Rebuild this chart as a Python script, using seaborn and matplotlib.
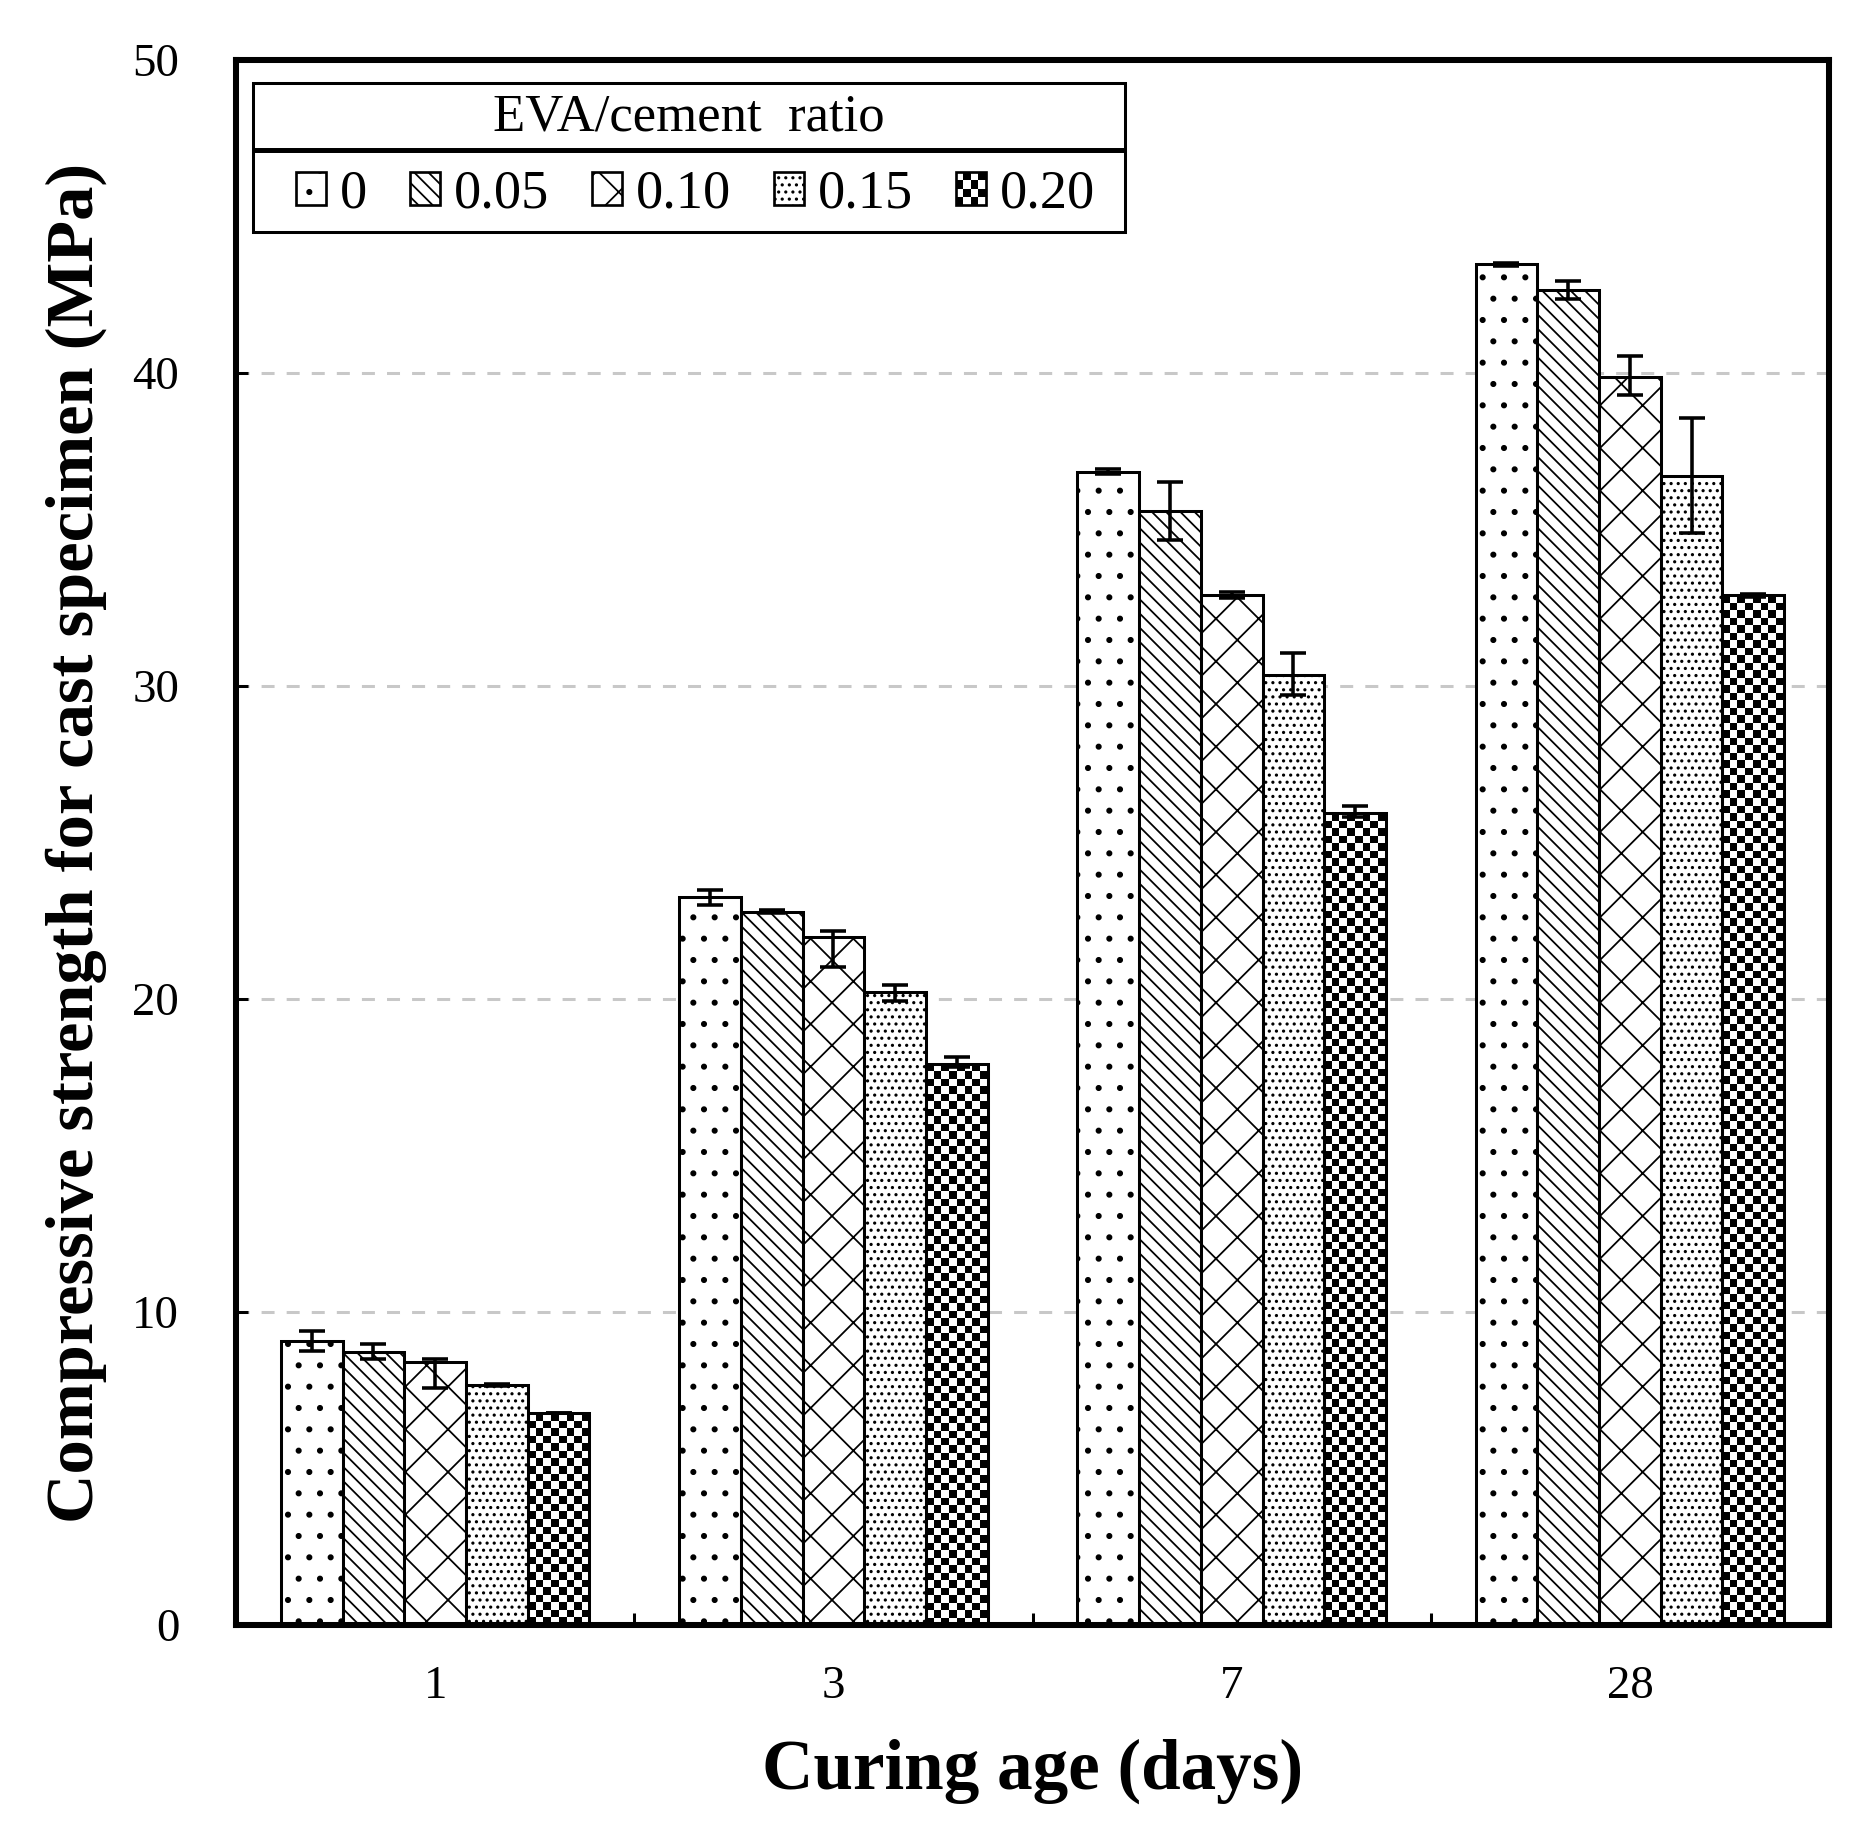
import numpy as np
import pandas as pd
import matplotlib
matplotlib.use('Agg')
import matplotlib.pyplot as plt
import seaborn as sns
from matplotlib.patches import Rectangle, Patch
from matplotlib.legend_handler import HandlerBase

# data (MPa)
ages = ['1', '3', '7', '28']
ratios = ['0', '0.05', '0.10', '0.15', '0.20']
strength = {
    '0':    [9.08, 23.25, 36.85, 43.47],
    '0.05': [8.73, 22.79, 35.59, 42.65],
    '0.10': [8.41, 21.97, 32.91, 39.87],
    '0.15': [7.67, 20.23, 30.35, 36.72],
    '0.20': [6.76, 17.92, 25.93, 32.90],
}
err_lo = {
    '0':    [0.31, 0.24, 0.08, 0.05],
    '0.05': [0.24, 0.05, 0.93, 0.29],
    '0.10': [0.85, 0.94, 0.10, 0.57],
    '0.15': [0.03, 0.28, 0.65, 1.82],
    '0.20': [0.00, 0.10, 0.10, 0.05],
}
err_hi = {
    '0':    [0.31, 0.24, 0.08, 0.05],
    '0.05': [0.24, 0.05, 0.93, 0.29],
    '0.10': [0.08, 0.21, 0.10, 0.67],
    '0.15': [0.03, 0.22, 0.69, 1.85],
    '0.20': [0.00, 0.22, 0.24, 0.05],
}
hatches = ['.', '\\\\\\', 'x', '...', None]  # last one gets a checkerboard

DPI = 128
sns.set_theme(style='white')
plt.rcParams['font.family'] = ['Liberation Serif', 'DejaVu Serif']
plt.rcParams['hatch.linewidth'] = 1.0
plt.rcParams['hatch.color'] = 'black'
for k in ['text.color', 'axes.labelcolor', 'xtick.color', 'ytick.color']:
    plt.rcParams[k] = 'black'

df = pd.DataFrame([
    {'age': a, 'ratio': r, 'strength': strength[r][i]}
    for r in ratios for i, a in enumerate(ages)
])

fig = plt.figure(figsize=(1869 / DPI, 1846 / DPI), dpi=DPI)
ax = fig.add_axes([0.1263, 0.1197, 0.8523, 0.8478])

sns.barplot(data=df, x='age', y='strength', hue='ratio', order=ages,
            hue_order=ratios, palette=['white'] * 5, saturation=1,
            width=0.775, errorbar=None, edgecolor='black', linewidth=1.7,
            legend=False, ax=ax)
ax.set_xlim(-0.5, 3.5)
ax.set_ylim(0, 50)

for cont, h in zip(ax.containers, hatches):
    for bar in cont:
        if h:
            bar.set_hatch(h)

# checkerboard fill for the 0.20 series
for bar in ax.containers[4]:
    bb = bar.get_window_extent()
    nx = max(1, int(round(bb.width / 7.5)))
    ny = max(1, int(round(bb.height / 7.5)))
    cells = np.add.outer(np.arange(ny), np.arange(nx)) % 2
    im = ax.imshow(cells, cmap='gray', vmin=0, vmax=1, origin='lower',
                   extent=(bar.get_x(), bar.get_x() + bar.get_width(), 0, bar.get_height()),
                   interpolation='nearest', aspect='auto', zorder=bar.get_zorder() - 0.01)
    im.set_clip_path(bar)
    bar.set_facecolor('none')
ax.set_xlim(-0.5, 3.5)
ax.set_ylim(0, 50)

# error bars
for r, cont in zip(ratios, ax.containers):
    for bar in cont:
        xc = bar.get_x() + bar.get_width() / 2
        gi = int(round(xc))
        ax.errorbar(xc, bar.get_height(), yerr=[[err_lo[r][gi]], [err_hi[r][gi]]],
                    fmt='none', ecolor='black', elinewidth=2, capsize=7.3,
                    capthick=2, zorder=3)

# axes styling
for sp in ax.spines.values():
    sp.set_linewidth(3.4)
    sp.set_color('black')
ax.set_yticks([0, 10, 20, 30, 40, 50])
ax.tick_params(axis='y', direction='in', length=6.75, width=1.7, pad=32,
               labelsize=26.4, left=True)
ax.set_xticks(range(len(ages)))
ax.set_xticklabels(ages)
ax.tick_params(axis='x', which='major', length=0, pad=23, labelsize=26.4)
ax.set_xticks([0.5, 1.5, 2.5], minor=True)
ax.tick_params(axis='x', which='minor', direction='in', length=6.75,
               width=1.7, bottom=True)
ax.yaxis.grid(True, color='#c8c8c8', linestyle=(0, (4.3, 4)), linewidth=1.7)
ax.xaxis.grid(False)
ax.set_axisbelow(True)

ax.set_xlabel('Curing age (days)', fontsize=40, fontweight='bold', labelpad=17)
ax.set_ylabel('Compressive strength for cast specimen (MPa)', fontsize=38.5,
              fontweight='bold', labelpad=14)

# legend box with separate title row
x0, x1, yb, ydiv, yt = 0.0107, 0.558, 0.8901, 0.9422, 0.9853
ax.add_patch(Rectangle((x0, yb), x1 - x0, yt - yb, transform=ax.transAxes,
                       facecolor='white', edgecolor='black', lw=1.7, zorder=4))
ax.plot([x0, x1], [ydiv, ydiv], transform=ax.transAxes, color='black',
        lw=2.8, zorder=4.5, solid_capstyle='butt')
ax.text((x0 + x1) / 2, 0.963, 'EVA/cement  ratio', transform=ax.transAxes,
        ha='center', va='center', fontsize=29.7, zorder=5)


class CheckerHandler(HandlerBase):
    def create_artists(self, legend, orig_handle, xdescent, ydescent,
                       width, height, fontsize, trans):
        n = 4
        cw, ch = width / n, height / n
        arts = []
        for i in range(n):
            for j in range(n):
                if (i + j) % 2 == 0:
                    arts.append(Rectangle((-xdescent + i * cw, -ydescent + j * ch), cw, ch,
                                          facecolor='black', edgecolor='none', transform=trans))
        arts.append(Rectangle((-xdescent, -ydescent), width, height, facecolor='none',
                              edgecolor='black', lw=1.5, transform=trans))
        return arts


handles = [Patch(facecolor='white', edgecolor='black', hatch=h, lw=1.5) for h in hatches[:4]]
checker = Patch(facecolor='white', edgecolor='black')
handles.append(checker)
leg = ax.legend(handles, ratios, ncol=5, loc='center',
                bbox_to_anchor=((x0 + x1) / 2 + 0.004, 0.914), frameon=False,
                fontsize=30.5, handlelength=0.55, handleheight=0.55,
                handletextpad=0.25, columnspacing=0.8, borderpad=0,
                handler_map={checker: CheckerHandler()})
leg.set_zorder(6)

fig.savefig('out.png', dpi=DPI)
